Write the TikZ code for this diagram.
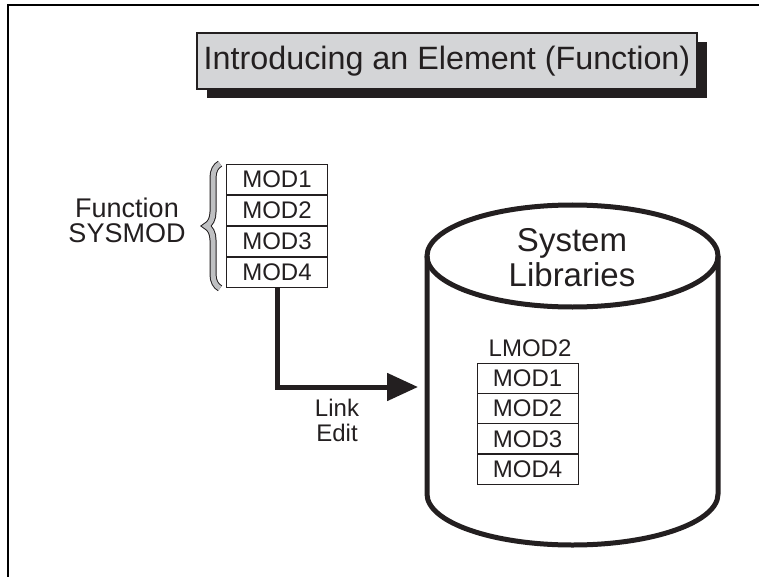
\documentclass[tikz,border=0pt]{standalone}
\usepackage{fontspec}
\setmainfont{Liberation Sans}
\usepackage{tikz}
\usetikzlibrary{arrows.meta,shadows,decorations.pathreplacing}
\definecolor{inkc}{HTML}{231F20}
\definecolor{titlefill}{HTML}{D4D5D7}
\definecolor{bracefill}{HTML}{BFC0C2}

\begin{document}
\begin{tikzpicture}[x=1pt, y=-1pt,
    modbox/.style={draw=inkc, line width=1pt, minimum width=101pt, minimum height=30.5pt,
      inner sep=0pt, font=\fontsize{24}{24}\selectfont, text=inkc},
    lbl/.style={text=inkc, align=center, inner sep=0pt}]
    \useasboundingbox (0,0) rectangle (759,577);
    % page frame
    \draw[line width=1.2pt] (759,5) -- (8,5) -- (8,577);
    % title
    \node[lbl, draw=inkc, line width=1.2pt, fill=titlefill, minimum width=500pt, minimum height=56pt,
      drop shadow={shadow xshift=10pt, shadow yshift=-9pt, fill=inkc, opacity=1},
      font=\fontsize{32.3}{32}\selectfont] (title) at (447,61) {Introducing an Element (Function)};
    % function sysmod
    \foreach \i in {1,...,4}
      \node[modbox] (fmod\i) at (277,{148.5+31*\i}) {MOD\i};
    \draw[decorate, decoration={brace, amplitude=14pt}, draw=inkc, line width=1pt,
      double=bracefill, double distance=5pt]
      ([xshift=-6pt]fmod4.south west) -- ([xshift=-6pt]fmod1.north west);
    \node[lbl, font=\fontsize{27}{25}\selectfont] (func) at (127,220) {Function\\SYSMOD};
    % system libraries
    \draw[line width=5pt, inkc] (427,256) -- (427,494)
      arc[start angle=180, end angle=360, x radius=145.5pt, y radius=51pt] -- (718,256);
    \draw[line width=5pt, inkc] (572.5,256) ellipse[x radius=145.5pt, y radius=51pt];
    \node[lbl, font=\fontsize{33}{35}\selectfont] (lib) at (572,258) {System\\Libraries};
    \node[lbl, font=\fontsize{24}{24}\selectfont] (lmod) at (530,348) {LMOD2};
    \foreach \i in {1,...,4}
      \node[modbox] (lmod\i) at (527.5,{348+30.25*\i}) {MOD\i};
    % link edit
    \coordinate (libin) at (418,387);
    \draw[line width=5pt, inkc, -{Triangle[length=31pt, width=27pt]}] (fmod4.south) |- (libin);
    \node[lbl, font=\fontsize{24}{25}\selectfont] (link) at (337,420) {Link\\Edit};
\end{tikzpicture}
\end{document}
